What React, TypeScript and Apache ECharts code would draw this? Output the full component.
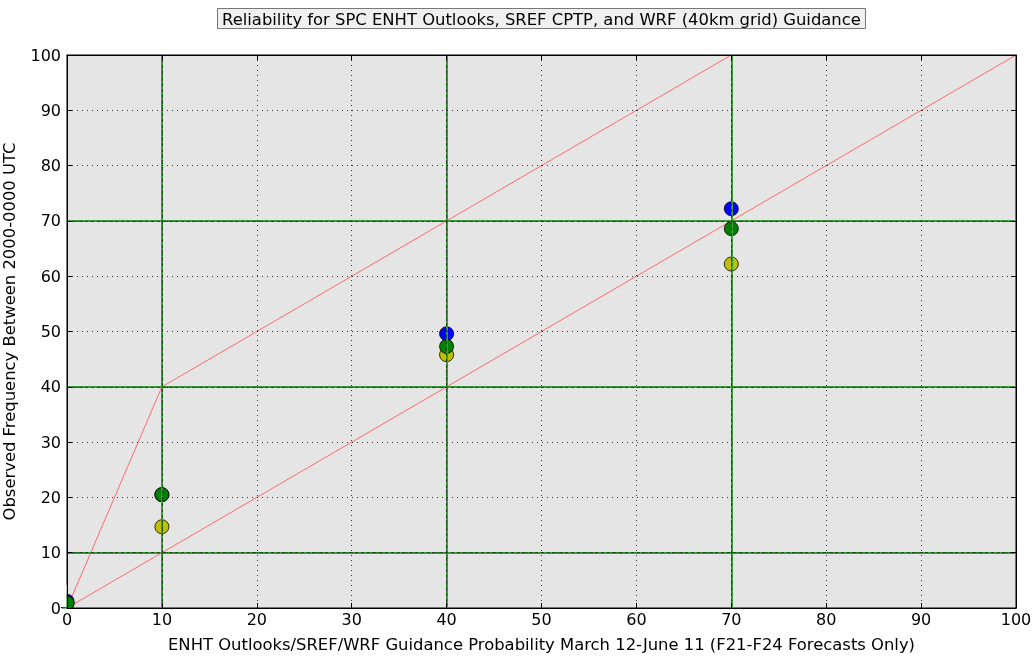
import React, { useEffect, useRef } from "react";
import * as echarts from "echarts";

const xTicks = [0, 10, 20, 30, 40, 50, 60, 70, 80, 90, 100];
const probs = [0, 10, 40, 70];
const blueVals = [1.2, 20.5, 49.6, 72.2];
const yellowVals = [0.8, 14.7, 45.8, 62.2];
const greenVals = [0.9, 20.5, 47.3, 68.6];
const perfectLine = [[0, 0], [100, 100]];
const upperLine = [[0, 0], [10, 40], [70, 100]];
const greenX = [10, 40, 70];
const greenY = [10, 40, 70];

const font = "DejaVu Sans";

export default function App() {
  const ref = useRef<HTMLDivElement>(null);
  useEffect(() => {
    const chart = echarts.init(ref.current!, null, { renderer: "svg" });
    const pts = (vals: number[]) => probs.map((p, i) => [p, vals[i]]);
    const greenMark = (type: any, color: string, width: number) => ({
      silent: true,
      symbol: "none",
      label: { show: false },
      lineStyle: { color, width, type, opacity: 1 },
      emphasis: { disabled: true },
      data: [
        ...greenX.map((v) => ({ xAxis: v })),
        ...greenY.map((v) => ({ yAxis: v })),
      ],
    });
    const axisCommon = {
      min: 0,
      max: 100,
      interval: 10,
      axisLine: { show: true, onZero: false, lineStyle: { color: "#000", width: 1 } },
      axisTick: { show: true, inside: true, length: 5, lineStyle: { color: "#000" } },
    };
    chart.setOption({
      animation: false,
      title: {
        text: "Reliability for SPC ENHT Outlooks, SREF CPTP, and WRF (40km grid) Guidance",
        left: 217,
        top: 8,
        padding: [3, 5, 2, 5],
        backgroundColor: "#f0f0f0",
        borderColor: "#777",
        borderWidth: 1,
        textStyle: { fontFamily: font, fontSize: 16.4, fontWeight: "normal", color: "#000" },
      },
      grid: {
        left: 67,
        right: 18,
        top: 55,
        bottom: 48,
        show: true,
        backgroundColor: "#e5e5e5",
        borderColor: "#000",
        borderWidth: 1,
        outerBoundsMode: "none",
        containLabel: false,
      },
      xAxis: [
        {
          ...axisCommon,
          type: "value",
          position: "bottom",
          name: "ENHT Outlooks/SREF/WRF Guidance Probability March 12-June 11 (F21-F24 Forecasts Only)",
          nameLocation: "middle",
          nameGap: 28,
          nameTextStyle: { fontFamily: font, fontSize: 16.4, color: "#000" },
          axisLabel: { fontFamily: font, fontSize: 16, color: "#000", margin: 3 },
          splitLine: { show: true, lineStyle: { color: "#333", type: [1, 4], width: 1 } },
          z: 10,
        },
        {
          ...axisCommon,
          type: "value",
          position: "top",
          axisLabel: { show: false },
          splitLine: { show: false },
          z: 10,
        },
      ],
      yAxis: [
        {
          ...axisCommon,
          type: "value",
          position: "left",
          name: "Observed Frequency Between 2000-0000 UTC",
          nameLocation: "middle",
          nameGap: 50,
          nameTextStyle: { fontFamily: font, fontSize: 16.4, color: "#000" },
          axisLabel: { fontFamily: font, fontSize: 16, color: "#000", margin: 6 },
          splitLine: { show: true, lineStyle: { color: "#333", type: [1, 4], width: 1 } },
          z: 10,
        },
        {
          ...axisCommon,
          type: "value",
          position: "right",
          axisLabel: { show: false },
          splitLine: { show: false },
          z: 10,
        },
      ],
      graphic: [
        { type: "rect", shape: { x: 40, y: 585, width: 26.5, height: 22 }, style: { fill: "#fff" }, z: 5, silent: true },
        { type: "rect", shape: { x: 40, y: 608.5, width: 60, height: 10 }, style: { fill: "#fff" }, z: 5, silent: true },
      ],
      series: [
        {
          type: "line",
          data: [],
          markLine: greenMark("solid", "#3a9a3a", 2),
          z: 1,
        },
        {
          type: "line",
          data: [],
          markLine: greenMark([3, 3], "#0a5a0a", 1),
          z: 1,
        },
        {
          type: "line",
          data: perfectLine,
          showSymbol: false,
          symbol: "none",
          lineStyle: { color: "#ff6a6a", width: 1 },
          z: 2,
        },
        {
          type: "line",
          data: upperLine,
          showSymbol: false,
          symbol: "none",
          lineStyle: { color: "#ff6a6a", width: 1 },
          z: 2,
        },
        {
          type: "scatter",
          data: pts(blueVals),
          symbolSize: 14,
          itemStyle: { color: "#0000ff", borderColor: "#000", borderWidth: 0.8, opacity: 1 },
          z: 3,
        },
        {
          type: "scatter",
          data: pts(yellowVals),
          symbolSize: 14,
          itemStyle: { color: "#bfbf00", borderColor: "#000", borderWidth: 0.8, opacity: 1 },
          z: 3,
        },
        {
          type: "scatter",
          data: pts(greenVals),
          symbolSize: 14,
          itemStyle: { color: "#008000", borderColor: "#000", borderWidth: 0.8, opacity: 1 },
          z: 3,
        },
      ],
    });
    return () => chart.dispose();
  }, []);
  return (
    <div
      ref={ref}
      style={{ position: "fixed", left: 0, top: 0, width: 1034, height: 656 }}
    />
  );
}
